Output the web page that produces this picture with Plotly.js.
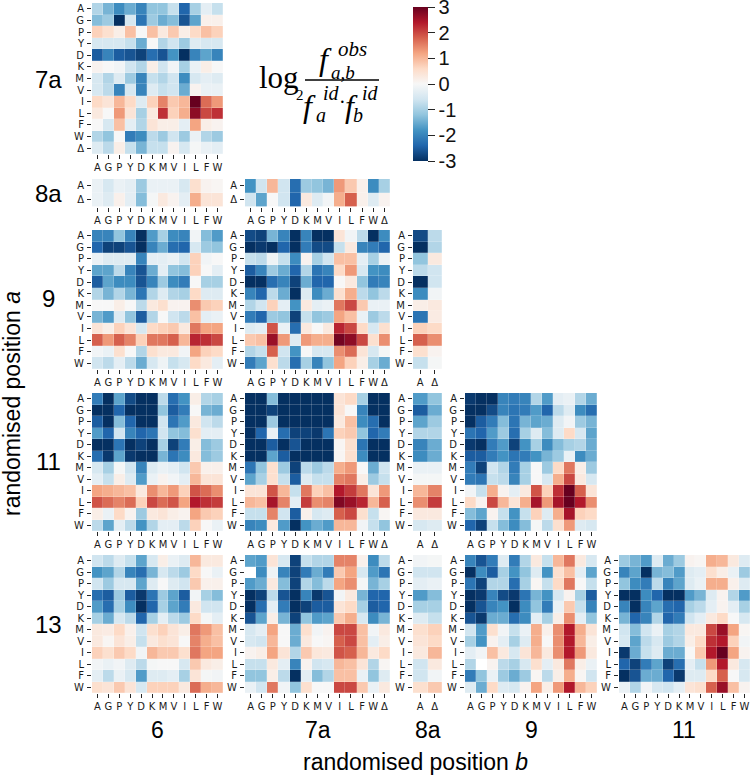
<!DOCTYPE html>
<html><head><meta charset="utf-8">
<script src="https://cdn.plot.ly/plotly-3.0.1.min.js"></script>
<style>html,body{margin:0;padding:0;background:#fff}</style></head>
<body><div id="chart" style="width:750px;height:775px"></div>
<script>
const aa12 = ['A','G','P','Y','D','K','M','V','I','L','F','W'];
const aa13 = ['A','G','P','Y','D','K','M','V','I','L','F','W','Δ'];
const aa2 = ['A','Δ'];
const scaleStops = ['#053061','#2166ac','#4393c3','#92c5de','#d1e5f0','#f7f7f7','#fddbc7','#f4a582','#d6604d','#b2182b','#67001f'];
const barTicks = [-3,-2,-1,0,1,2,2.99];
const barLabels = ['-3','-2','-1','0','1','2','3'];

const m7a_6 = [
[-0.9,-1.4,-1.9,-1.5,-2.0,-1.2,-1.2,-0.7,-2.4,-1.0,-0.3,-0.7],
[-1.3,-1.1,-3.0,-0.5,-2.2,-1.1,-1.5,-1.3,-2.6,-1.6,0.15,0.15],
[0.7,0.5,0.2,0.9,0.0,0.9,0.3,0.8,0.2,0.6,0.9,0.7],
[-0.5,-0.5,-0.5,-0.7,-1.5,0.0,-0.9,-0.6,-1.1,-0.4,-0.5,-0.5],
[-2.5,-2.0,-2.5,-2.6,-2.8,-2.3,-2.6,-1.8,-3,-2.0,-1.6,-2.0],
[0.1,0,-0.1,-0.6,-0.9,0.2,-0.6,-0.1,-1.0,-0.2,0.2,0],
[-0.5,-0.9,-0.4,-1.1,-2.0,-0.7,-0.9,-0.6,-1.9,-0.5,-0.3,-0.4],
[-0.5,-0.8,-2.0,-0.5,-2.0,-0.4,-0.7,-0.6,-1.5,0.1,-0.2,-0.2],
[0.6,0.4,1.0,0.6,-0.4,0.7,1.5,0.8,1.0,3.0,1.7,1.3],
[0.3,0,1.3,0.4,-1.0,0.3,2.2,0.7,1.1,2.7,2.0,2.2],
[0,-0.5,0.9,-0.3,-0.9,0.4,0.2,0.2,-0.3,1.2,0.2,0.1],
[-0.9,-1.2,0,-2.1,-1.9,-0.8,-1.1,-0.6,-1.1,-0.2,-0.9,-1.1],
[-0.4,-0.8,0.2,-0.7,-1.4,-0.7,-0.7,0.1,-0.5,-0.05,-0.2,-0.3]];
const m8a_6 = [
[-0.2,-0.5,-0.2,-0.3,-1.1,-0.2,-0.2,-0.2,-0.5,0.5,0.1,0.05],
[-0.2,-0.4,0.15,-0.3,-1.3,-0.05,0.3,0.1,-0.3,1.1,0.4,0.4]];
const m8a_7a = [
[-1.8,-0.6,1.0,-0.6,-2.3,-1.1,-1.2,-1.4,1.3,0.8,0.15,-1.9,-1.0],
[-0.6,-1.6,0,-0.6,-2.4,0.3,-0.4,-0.1,1.1,1.8,0.15,-0.4,0.1]];
const m9_6 = [
[-2.0,-2.0,-1.2,-2.0,-3.0,-1.7,-1.0,-1.9,-2.0,-0.1,-1.3,-1.7],
[-2.4,-2.8,-2.8,-2.6,-3.0,-2.0,-1.5,-2.3,-2.4,-0.5,-1.1,-1.2],
[-0.2,-0.4,-0.4,-0.4,-2.0,-0.3,-0.3,-0.2,-0.6,0.7,-0.1,0],
[-1.6,-1.6,-0.8,-2.0,-2.6,-1.5,-0.3,-1.2,-1.3,0.7,0,-0.3],
[-2.5,-1.6,-1.9,-1.9,-2.6,-2.0,-1.1,-1.9,-2.1,0,-1.0,-1.0],
[-0.9,-1.4,-0.9,-1.4,-2.2,-0.9,-0.4,-0.9,-1.0,0.6,-0.4,-0.4],
[0,0,0.2,0,-0.8,0.3,0.5,0.1,0.1,1.4,0.8,0.7],
[-1.4,-1.7,-0.4,-1.2,-2.5,-0.9,0,-0.6,-0.8,0.9,-0.3,-0.2],
[0.4,0.2,0.7,0.4,-0.5,0.6,0.7,0.8,0.3,1.6,1.2,1.2],
[1.8,1.3,1.8,1.5,0.7,1.6,1.6,1.8,1.0,2.3,2.2,2.0],
[-0.1,-0.2,0.5,0,-0.9,0.5,0.3,0.3,-0.1,1.2,0.7,0.6],
[-0.6,-0.8,-0.3,-0.8,-1.5,-0.5,-0.15,-0.7,-0.5,0.6,0.3,-0.3]];
const m9_7a = [
[-2.7,-2.8,-1.4,-2.0,-3,-2.0,-3,-3,0.4,-0.1,-0.8,-3,-1.9],
[-3,-2.9,-3,-2.4,-3,-2.1,-2.7,-2.7,-0.7,0.3,-2.0,-2.1,-2.4],
[-0.7,-0.8,-0.15,-0.7,-1.9,0.1,-1.0,-0.6,0.9,0.9,-0.3,-1.0,-0.2],
[-2.5,-2.0,-1.1,-1.5,-2.4,-0.9,-2.2,-2.0,0.6,1.3,-0.5,-1.8,-1.9],
[-3,-3,-2.3,-2.0,-2.8,-1.5,-2.4,-2.4,0,0.3,-1.2,-2.1,-2.0],
[-2.0,-2.4,-0.8,-1.5,-3,-0.4,-1.9,-1.5,0.5,1.1,-0.8,-1.2,-0.8],
[-0.9,-0.6,0.7,-0.3,-1.8,0.3,-0.3,-0.2,1.6,2.0,0.8,-0.2,-0.2],
[-2.1,-2.4,-1.1,-1.2,-2.8,-0.7,-1.2,-1.1,1.2,0.9,-0.2,-1.1,-0.8],
[-0.4,-0.3,1.9,-0.2,-2.3,0.3,0,0.3,2.3,2.0,0.6,-0.5,0.5],
[0.8,0.9,2.6,1.3,-0.4,1.3,1.1,1.1,2.9,2.7,2.0,0.5,1.4],
[-0.9,-0.7,1.8,-0.6,-1.8,0,-0.5,-0.5,1.4,1.7,0.4,-0.5,-0.05],
[-2.1,-1.6,0.5,-0.8,-2.3,-1.0,-2.0,-1.2,1.2,0.7,0.2,-1.0,-1.5]];
const m9_8a = [[-2.7,-0.8],[-3,-0.9],[-1.2,0.3],[-0.8,-0.6],[-3,-0.6],[-1.9,-0.1],[0.2,0.3],[-2.2,0.25],[0.7,0.6],[1.8,1.4],[0.5,0.1],[-0.7,-0.05]];
const m11_6 = [
[-2.1,-3,-1.6,-2.7,-3,-3,-0.8,-2.3,-1.8,0.2,-0.9,-1.0],
[-3,-3,-2.4,-3,-3,-3,-1.2,-2.5,-2.1,0,-1.4,-1.5],
[-2.5,-3,-1.3,-2.4,-3,-3,-0.6,-2.2,-1.7,0.3,-0.6,-0.8],
[-1.7,-2.4,-0.6,-2.0,-2.4,-2.2,-0.6,-1.2,-1.3,0.5,-0.3,-0.3],
[-3,-3,-2.2,-3,-2.8,-3,-1.0,-2.8,-2.1,0.2,-1.3,-1.1],
[-2.3,-2.9,-1.6,-2.9,-3,-3,-1.4,-2.2,-1.9,0.3,-1.3,-1.1],
[-0.5,-1.0,-0.05,-0.6,-2.0,-0.4,-0.2,-0.3,-0.6,0.8,0.15,0.15],
[-0.3,-0.7,0.2,-0.4,-1.7,-0.2,0.1,-0.1,-0.3,1.0,0.4,0.4],
[1.2,1.1,1.0,0.9,0.3,1.4,1.0,1.3,0.7,1.9,1.7,1.4],
[1.9,1.7,1.5,1.7,0.7,2.0,1.7,1.9,1.2,2.4,2.2,2.1],
[0.2,-0.2,0.6,0.1,-1.1,0.3,0.4,0.2,0.1,1.2,0.8,0.7],
[-0.8,-1.6,-0.3,-0.8,-1.8,-0.9,-0.3,-0.3,-0.8,0.7,0,-0.2]];
const m11_7a = [
[-3,-3,-1.3,-3,-3,-3,-3,-3,0.4,0.6,-1.0,-3,-3],
[-3,-3,-2.8,-3,-3,-3,-3,-3,0.4,0,-2.0,-3,-3],
[-3,-3,-1.1,-3,-3,-3,-3,-3,0.3,0.9,-1.9,-2.3,-3],
[-3,-2.4,-0.2,-2.3,-2.8,-2.8,-2.9,-2.2,0.7,0.8,-1.2,-2.4,-2.1],
[-3,-3,-2.5,-3,-2.6,-3,-3,-3,0.05,0.5,-2.2,-3,-3],
[-3,-3,-1.6,-2.5,-3,-3,-3,-3,0.05,0.5,-1.9,-3,-3],
[-2.2,-1.2,0.5,-1.1,-2.8,-0.8,-1.1,-0.8,1.1,1.3,0,-1.5,-0.6],
[-1.6,-1.0,0.5,-0.7,-2.5,-0.4,-0.7,-0.7,1.5,1.6,0.2,-1.1,-0.7],
[0.4,0.4,1.9,1.0,-0.7,1.6,0.7,0.9,2.4,2.1,1.6,0.4,1.3],
[1.0,0.9,2.5,1.5,-0.3,2.1,1.4,1.5,2.8,2.6,2.3,1.0,1.8],
[-0.7,-0.7,1.5,-0.6,-2.5,0.15,-0.5,-0.4,1.8,2.0,0.5,-0.7,0.05],
[-2.0,-1.9,0.3,-1.7,-3,-1.8,-1.5,-1.7,1.0,1.0,-0.1,-0.7,-1.2]];
const m11_8a = [[-1.7,-1.2],[-2.5,-1.5],[-1.6,-1.1],[-0.9,-0.9],[-2.0,-1.5],[-1.9,-1.5],[-0.2,-0.2],[-0.05,-0.05],[1.0,1.5],[1.4,2.1],[0.3,0.3],[-0.5,-0.4]];
const m11_9 = [
[-2.9,-3,-3,-2.0,-2.1,-2.0,-0.9,-1.7,-0.3,-0.2,-0.9,-1.5],
[-3,-3,-2.7,-2.0,-2.2,-2.1,-1.7,-2.4,-0.8,-0.4,-1.9,-2.3],
[-3,-2.5,-2.1,-1.3,-2.2,-1.4,-1.6,-1.5,-0.4,-0.1,-1.1,-1.4],
[-2.2,-2.4,-1.7,-1.1,-2.3,-1.0,-0.4,-1.3,-0.4,0.6,-0.5,-1.6],
[-2.9,-3,-2.1,-1.7,-2.8,-1.8,-1.0,-1.9,-1.3,-1.0,-0.9,-1.5],
[-2.5,-2.5,-2.1,-1.8,-2.2,-2.1,-1.8,-1.4,-1.1,-0.2,-1.9,-1.5],
[-2.1,-2.8,-0.6,-0.9,-2.1,-1.0,0,-1.1,0.6,1.6,0.2,-1.1],
[-2.1,-2.2,-0.7,-0.8,-2.0,-1.0,0,-0.5,1.1,2.0,0.3,-0.5],
[-0.1,-0.7,1.1,0.1,-0.3,0.3,1.9,0.7,2.2,3,1.8,0.4],
[0.6,0.1,2.0,1.0,0.4,1.1,2.5,1.3,2.5,3,2.4,1.4],
[-1.3,-1.6,0.1,-0.7,-1.8,-0.7,0.7,-0.4,1.1,2.5,0.7,0.6],
[-2.4,-2.8,-0.7,-1.3,-1.9,-1.3,-0.05,-0.8,0.5,1.3,-0.4,-0.5]];
const m13_6 = [
[-0.6,-0.8,-0.4,-0.7,-1.6,-0.5,0.2,-0.2,-0.4,1.0,0.3,0.3],
[-1.8,-1.6,-0.9,-2.0,-2.3,-1.4,-0.5,-0.8,-1.1,0.6,0,-0.2],
[-0.6,-1.1,-0.5,-0.5,-1.6,-0.4,0,-0.4,-0.6,0.8,0.15,0.15],
[-2.3,-2.5,-1.1,-2.5,-2.9,-2.2,-1.1,-1.6,-2.5,-0.1,-1.0,-1.3],
[-1.7,-2.3,-1.0,-1.9,-3,-2.4,-1.0,-1.6,-2.1,0.3,-0.6,-0.6],
[-1.0,-1.5,-0.5,-0.8,-2.4,-1.0,-0.3,-0.8,-1.1,0.6,-0.05,-0.3],
[0.3,0.25,0.6,0.15,-0.6,0.5,0.7,0.4,0.2,1.6,1.3,0.9],
[0.3,0.05,0.4,0.2,-0.7,0.3,0.5,0.4,0,1.5,1.1,0.9],
[0.7,0.5,0.8,0.6,-0.1,1.0,0.8,0.8,0.5,1.6,1.2,1.2],
[-0.1,-0.2,-0.1,-0.4,-0.8,-0.05,0,0,-0.5,0.8,0.3,0.2],
[-0.3,-0.8,-0.2,-0.5,-1.7,-0.4,-0.4,-0.3,-1.0,0.4,-0.05,-0.1],
[0.5,0.4,0.8,0.4,-0.5,0.7,0.7,0.7,0.3,1.7,1.1,1.0]];
const m13_7a = [
[-1.6,-1.7,0.4,-0.5,-2.8,-0.7,-0.9,-0.9,1.5,1.5,0.15,-1.9,-0.8],
[null,-1.9,-0.15,-2.0,-2.8,-2.1,-1.5,-2.1,0.8,1.2,-0.5,-1.7,-2.2],
[-1.7,-1.5,0.3,-1.3,-2.8,-0.9,-1.3,-0.8,1.2,1.4,-0.05,-1.4,-1.0],
[-3,-2.8,-0.8,-2.6,-3,-2.0,-2.9,-2.6,-0.1,0.3,-1.4,-2.4,-2.4],
[-3,-2.3,-0.3,-2.1,-3,-2.8,-2.5,-2.5,0.4,0.6,-1.0,-2.5,-2.4],
[-2.6,-1.6,0.2,-1.4,-2.8,-1.2,-1.7,-1.6,0.8,1.1,-0.5,-1.9,-1.4],
[-0.5,-0.3,1.2,0,-1.5,0.5,-0.1,0.1,2.0,2.0,0.9,-0.1,0.3],
[-0.5,-0.6,1.0,0,-1.5,0.3,0,0.05,1.8,2.0,0.9,-0.3,0.2],
[0.1,0.2,1.2,0.4,-0.9,0.8,0.35,0.3,1.9,1.8,1.0,0.3,0.6],
[-0.7,-0.7,0.3,-0.3,-2.0,0.1,-0.6,-0.5,1.0,0.9,0.4,-0.9,0.05],
[-1.2,-1.2,0.2,-0.8,-3,-0.3,-1.3,-0.9,0.9,0.9,-0.2,-1.2,-0.4],
[-0.2,-0.6,1.6,-0.1,-1.2,0.5,0,0,2.0,2.0,0.8,-0.2,0.3]];
const m13_8a = [[-0.1,-0.05],[-0.6,-0.6],[-0.3,-0.2],[-1.7,-1.3],[-1.0,-1.0],[-0.4,-0.7],[0.5,0.7],[0.4,0.6],[0.3,1.0],[-0.6,0.3],[-0.6,-0.1],[0.5,0.8]];
const m13_9 = [
[-2.0,-2.6,-2.1,-0.4,-2.1,-0.9,0.3,-0.7,1.0,1.6,0.3,-0.5],
[-3,-1.9,-2.5,-1.0,-1.8,-1.2,-0.4,-1.8,0.5,0.9,-0.3,-1.6],
[-2.2,-2.8,-0.9,-0.9,-2.3,-1.0,0.05,-0.7,0.6,1.6,0,-0.7],
[-3,-2.9,-2.0,-2.7,-2.9,-2.2,-1.4,-1.8,-0.5,0.1,-1.0,-2.5],
[-3,-2.6,-2.0,-1.8,-3,-1.9,-1.2,-2.1,-0.2,0.8,-0.7,-2.0],
[-2.6,-2.9,-1.5,-1.5,-2.3,-1.9,-0.3,-1.0,0.2,1.4,-0.3,-1.2],
[-0.6,-1.7,0.5,-0.1,-0.7,-0.2,1.1,0.15,1.4,2.4,1.1,0.4],
[-1.0,-1.8,0.1,-0.3,-1.0,-0.4,1.1,0,1.4,2.4,1.0,0.2],
[-0.3,-0.1,0.9,0.3,-0.5,0.4,1.0,0.3,1.4,2.4,1.3,0.3],
[-0.9,null,0.1,-0.8,-1.0,-0.5,0.5,-0.3,0.3,1.6,0.2,-0.2],
[-2.1,-1.2,-0.2,-1.1,-1.5,-1.1,0.05,-0.8,0.2,1.1,0.05,-0.6],
[-0.4,-1.5,0.6,-0.4,-0.5,0.1,1.2,0.2,1.3,2.4,1.0,0.7]];
const m13_11 = [
[-1.1,-1.4,-1.7,-0.4,-1.5,-1.1,0.1,0.05,1.1,1.0,0.3,-0.4],
[-2.0,-1.6,-3,-1.4,-1.3,-1.7,-0.4,-0.3,0.5,0.2,-0.2,-1.1],
[-1.2,-1.9,-2.1,-0.8,-2.0,-1.6,-0.4,-0.2,1.1,1.1,0.15,-0.4],
[-3,-3,-1.9,-2.4,-3,-3,-1.7,-1.4,-0.4,0.1,-0.9,-1.7],
[-2.0,-3,-2.0,-1.6,-2.3,-2.4,-1.0,-0.8,-0.3,0.1,-0.3,-1.0],
[-1.4,-2.4,-2.0,-0.9,-2.4,-2.1,-0.6,-0.3,0.3,0.6,0,-0.5],
[-0.6,-1.3,-0.6,-0.2,-1.0,-0.9,0.3,0.3,2.0,2.6,1.2,0.05],
[-0.5,-1.6,-0.8,-0.5,-1.1,-0.9,0.2,0.6,2.2,2.4,0.7,-0.1],
[-2.9,-1.5,-0.7,-0.4,-1.5,-1.5,0,0.8,2.4,3,1.2,0.1],
[-2.4,-2.8,-2.1,-1.6,-2.8,-2.3,-0.3,-0.7,1.3,2.4,0.3,-0.5],
[-3,-2.6,-1.5,-1.5,-2.4,-2.9,-0.4,-0.4,0.6,1.8,0,-0.5],
[-0.2,-0.9,-0.1,-0.5,-0.6,-0.3,0.4,0.5,1.8,2.6,0.9,0.1]];

const rowSpans = {r7a:[3,154], r8a:[179,206.5], r9:[230,369], r11:[393,531], r13:[555,693]};
const colSpans = {c6:[92,223], c7a:[245,390], c8a:[413,442], c9:[465,597], c11:[619,750]};
const W = 750, H = 775;
const panels = [
 [m7a_6,aa13,aa12,'r7a','c6'],
 [m8a_6,aa2,aa12,'r8a','c6'],[m8a_7a,aa2,aa13,'r8a','c7a'],
 [m9_6,aa12,aa12,'r9','c6'],[m9_7a,aa12,aa13,'r9','c7a'],[m9_8a,aa12,aa2,'r9','c8a'],
 [m11_6,aa12,aa12,'r11','c6'],[m11_7a,aa12,aa13,'r11','c7a'],[m11_8a,aa12,aa2,'r11','c8a'],[m11_9,aa12,aa12,'r11','c9'],
 [m13_6,aa12,aa12,'r13','c6'],[m13_7a,aa12,aa13,'r13','c7a'],[m13_8a,aa12,aa2,'r13','c8a'],[m13_9,aa12,aa12,'r13','c9'],[m13_11,aa12,aa12,'r13','c11']
];
const tickFont = {family:'DejaVu Sans', size:10, color:'#1a1a1a'};
const sans = 'Liberation Sans', serif = 'Liberation Serif';
const layout = {
  width:W, height:H, margin:{l:0,r:0,t:0,b:0}, paper_bgcolor:'#fff', plot_bgcolor:'#fff', showlegend:false,
  coloraxis:{cmin:-3,cmax:3,
    colorscale:scaleStops.map((c,i)=>[i/(scaleStops.length-1),c]),
    colorbar:{thickness:15,thicknessmode:'pixels',len:154,lenmode:'pixels',x:413/W,xanchor:'left',xpad:0,ypad:0,
      y:1-7/H,yanchor:'top',outlinewidth:0,ticks:'outside',ticklen:7,tickwidth:1.2,tickcolor:'#262626',ticklabeloverflow:'allow',
      tickmode:'array',tickvals:barTicks,ticktext:barLabels,tickfont:{family:sans,size:20,color:'#111'}}},
  annotations:[], shapes:[]
};
const data = [];
panels.forEach((p,i)=>{
  const n = i===0?'':String(i+1);
  const [z,rows,cols,r,c] = p;
  const xs = colSpans[c], ys = rowSpans[r];
  data.push({type:'heatmap',z:z,x:cols,y:rows,coloraxis:'coloraxis',xaxis:'x'+n,yaxis:'y'+n,xgap:0.2,ygap:0.2,hoverongaps:false});
  const common = {showgrid:false,zeroline:false,showline:false,ticks:'outside',ticklen:4,tickwidth:1,tickcolor:'#262626',
    tickfont:tickFont,type:'category',tickmode:'array'};
  layout['xaxis'+n] = Object.assign({},common,{domain:[xs[0]/W,xs[1]/W],anchor:'y'+n,tickvals:cols,ticktext:cols,tickangle:0});
  layout['yaxis'+n] = Object.assign({},common,{domain:[1-ys[1]/H,1-ys[0]/H],anchor:'x'+n,autorange:'reversed',tickvals:rows,ticktext:rows,ticklabelstandoff:1});
});
function note(text,x,y,size,family,extra){
  layout.annotations.push(Object.assign({text:text,xref:'paper',yref:'paper',x:x/W,y:1-y/H,showarrow:false,xanchor:'center',yanchor:'middle',
    borderpad:0,font:{family:family,size:size,color:'#000'}},extra||{}));
}
[['7a',79],['8a',193],['9',299],['11',462],['13',624]].forEach(a=>note(a[0],48,a[1],24,sans));
[['6',157],['7a',318],['8a',428],['9',531],['11',684]].forEach(a=>note(a[0],a[1],730,23,sans));
note('randomised position <i>b</i>',415,762,23,sans);
note('randomised position <i>a</i>',12,404,23,sans,{textangle:-90});
note('log',279,78,31,serif);
note('2',300,95,15,serif);
note('<i>f</i>',325,59,32,serif);
note('<i>obs</i>',352,49,21,serif);
note('<i>a,b</i>',343,72,19,serif);
note('<i>f</i>',309,106,32,serif);
note('<i>id</i>',331,93,20,serif);
note('<i>a</i>',321,115,20,serif);
note('·',342,102,20,serif);
note('<i>f</i>',351,106,32,serif);
note('<i>id</i>',370,93,20,serif);
note('<i>b</i>',358,115,20,serif);
layout.shapes.push({type:'line',xref:'paper',yref:'paper',x0:305/W,x1:379/W,y0:1-80/H,y1:1-80/H,line:{color:'#000',width:1.3}});
Plotly.newPlot('chart',data,layout,{displayModeBar:false,responsive:false});
</script></body></html>
